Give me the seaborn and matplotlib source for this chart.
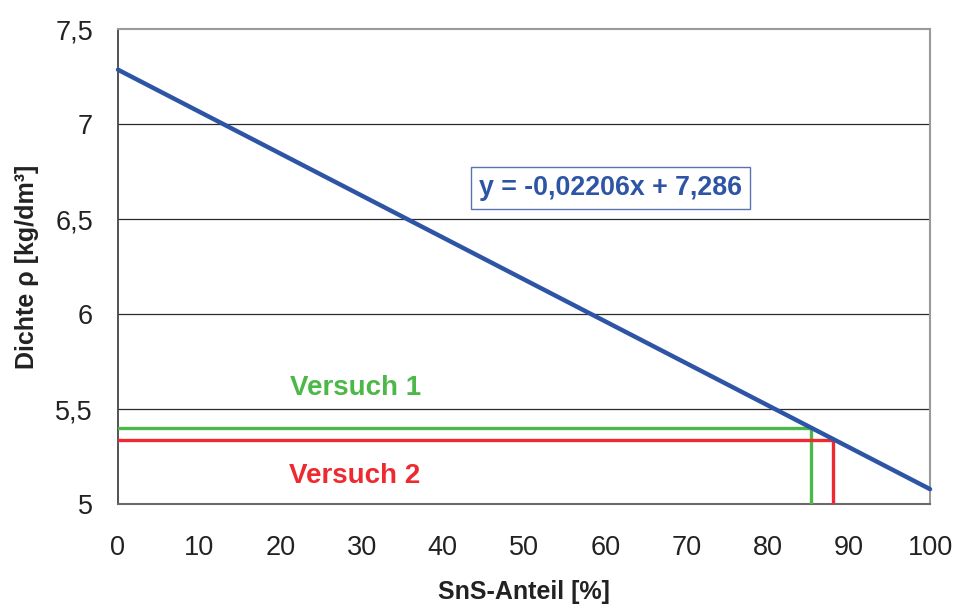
import matplotlib
matplotlib.use("Agg")
import matplotlib.pyplot as plt
import seaborn as sns
import numpy as np
import pandas as pd

# Regression of density over SnS fraction
slope = -0.02206
intercept = 7.286
x_range = [0, 100]

# Test runs: measured density and resulting SnS fraction
runs = ["Versuch 1", "Versuch 2"]
run_density = [5.40, 5.34]
run_share = [85.3, 88.0]
run_colors = ["#4cb848", "#ee2a30"]

x_ticks = [0, 10, 20, 30, 40, 50, 60, 70, 80, 90, 100]
y_ticks = [5, 5.5, 6, 6.5, 7, 7.5]
y_tick_labels = ["5", "5,5", "6", "6,5", "7", "7,5"]

sns.set_style("white")
plt.rcParams["font.family"] = ["Liberation Sans", "DejaVu Sans"]

fig = plt.figure(figsize=(9.57, 6.05), dpi=100)
ax = fig.add_axes([0.1233, 0.1664, 0.8485, 0.7856])

line_df = pd.DataFrame({"x": x_range,
                        "y": [slope * v + intercept for v in x_range]})
sns.lineplot(data=line_df, x="x", y="y", ax=ax, color="#2e55a5",
             linewidth=3.2, zorder=4, clip_on=False)

for name, d, s, c in zip(runs, run_density, run_share, run_colors):
    df = pd.DataFrame({"x": [0, s, s], "y": [d, d, 5]})
    ax.plot(df["x"], df["y"], color=c, linewidth=2.4, zorder=3,
            solid_joinstyle="miter")

ax.text(29.2, 5.61, runs[0], color=run_colors[0], fontsize=20,
        fontweight="bold", ha="center", va="center")
ax.text(29.2, 5.15, runs[1], color=run_colors[1], fontsize=20,
        fontweight="bold", ha="center", va="center")

ax.text(60.6, 6.663, "y = -0,02206x + 7,286", color="#2e55a5",
        fontsize=19.3, fontweight="bold", ha="center", va="center",
        bbox=dict(boxstyle="square,pad=0.3", facecolor="white",
                  edgecolor="#5a73b0", linewidth=1.0), zorder=5)

ax.set_xlim(0, 100)
ax.set_ylim(5, 7.5)
ax.set_xticks(x_ticks)
ax.set_xticklabels([str(v) for v in x_ticks])
ax.set_yticks(y_ticks)
ax.set_yticklabels(y_tick_labels)

for yv in y_ticks[1:-1]:
    ax.axhline(yv, color="#2a2a2a", linewidth=0.9, zorder=1)

for side in ["top", "right"]:
    ax.spines[side].set_color("#9a9a9a")
    ax.spines[side].set_linewidth(1.5)
ax.spines["left"].set_color("#444444")
ax.spines["left"].set_linewidth(1.3)
ax.spines["bottom"].set_color("#6a6a6a")
ax.spines["bottom"].set_linewidth(1.5)

ax.tick_params(axis="both", which="major", direction="out", length=7,
               width=1.2, colors="#555555", labelcolor="#222222",
               labelsize=19.5)
ax.tick_params(axis="y", pad=11)
ax.tick_params(axis="x", pad=15)

ax.set_xlabel("SnS-Anteil [%]", fontsize=18, fontweight="bold",
              color="#222222", labelpad=14)
ax.set_ylabel("Dichte ρ [kg/dm³]", fontsize=18, fontweight="bold",
              color="#222222", labelpad=12)

fig.savefig("out.png", dpi=100, facecolor="white")
